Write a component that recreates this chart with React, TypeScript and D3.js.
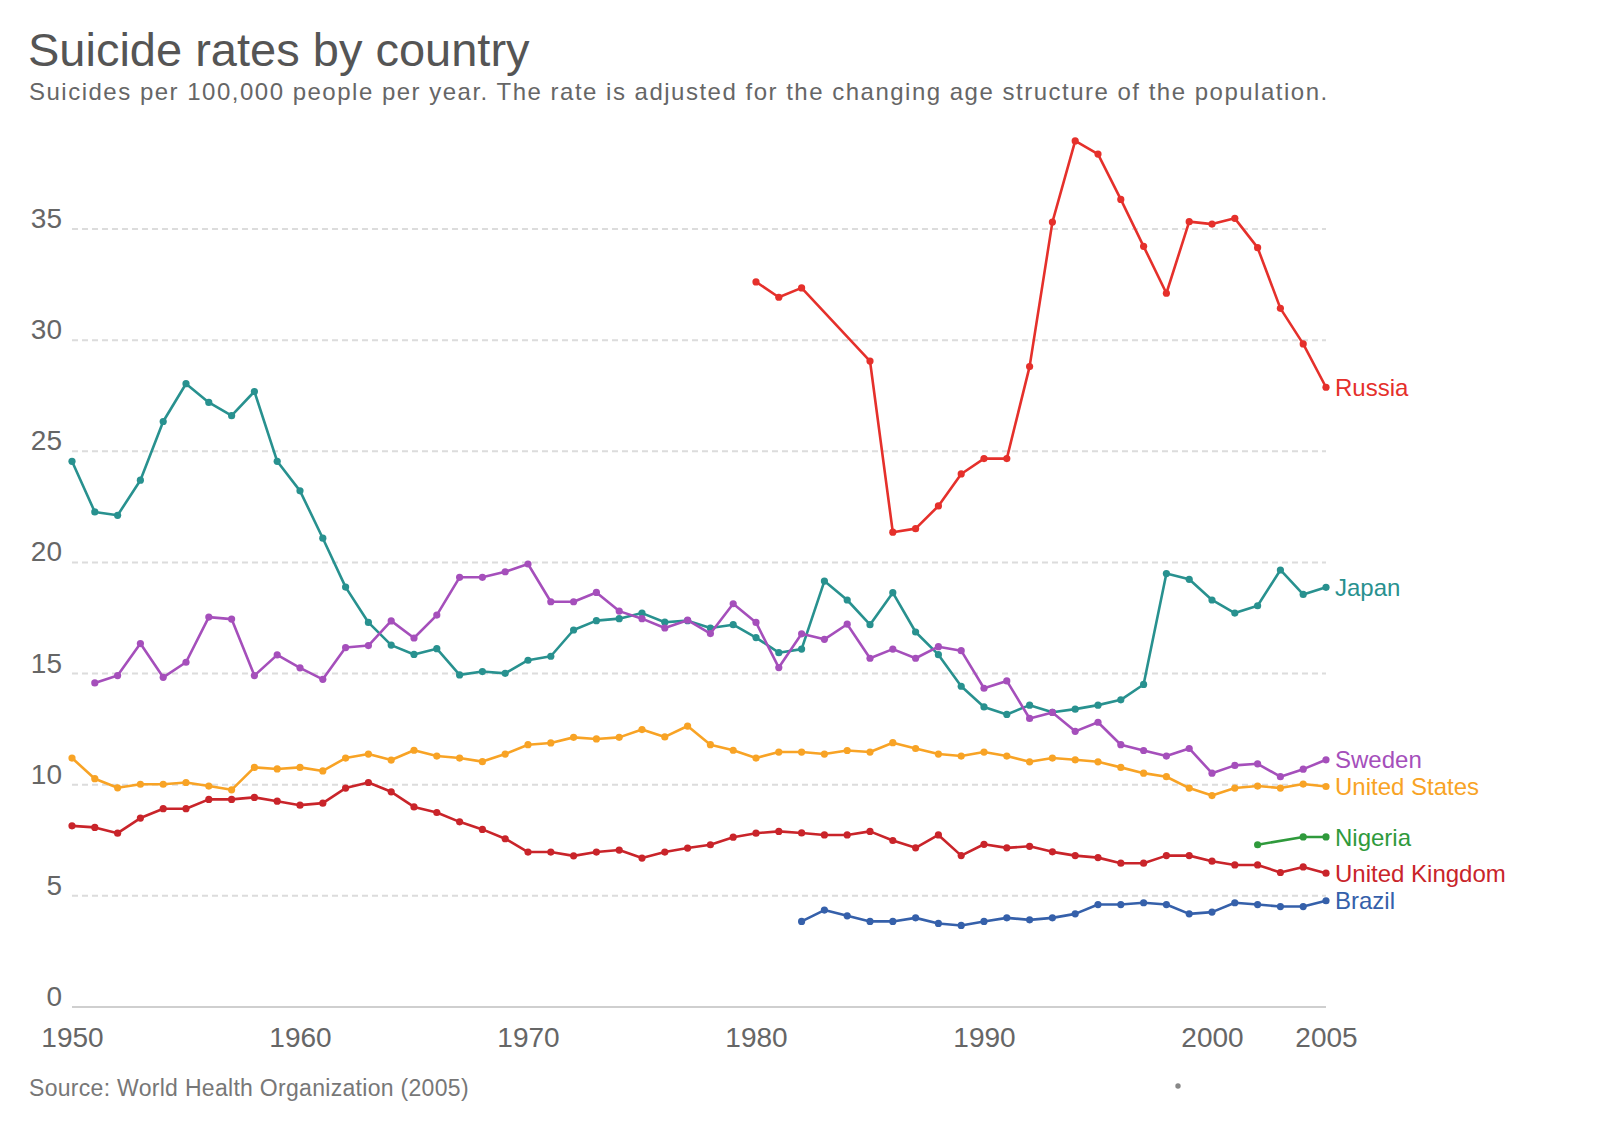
import React, { useEffect, useRef } from 'react';
import * as d3 from 'd3';

// values (suicides per 100,000, age-adjusted)
const japanStart = 1950;
const japan = [
    24.55, 22.27, 22.12, 23.7, 26.34, 28.04, 27.2, 26.6, 27.69, 24.55,
    23.22, 21.09, 18.89, 17.3, 16.28, 15.86, 16.12, 14.94, 15.09, 15.01,
    15.6, 15.78, 16.96, 17.38, 17.47, 17.72, 17.31, 17.38, 17.05, 17.2,
    16.62, 15.94, 16.1, 19.16, 18.31, 17.2, 18.64, 16.87, 15.85, 14.43,
    13.5, 13.16, 13.58, 13.26, 13.4, 13.58, 13.82, 14.51, 19.5, 19.24,
    18.31, 17.72, 18.05, 19.66, 18.56, 18.88,
];

const swedenStart = 1951;
const sweden = [
    14.58, 14.91, 16.35, 14.83, 15.51, 17.54, 17.45, 14.91, 15.84,
    15.26, 14.74, 16.17, 16.26, 17.37, 16.6, 17.63, 19.33, 19.33, 19.58,
    19.93, 18.23, 18.23, 18.65, 17.81, 17.47, 17.05, 17.4, 16.8, 18.14,
    17.3, 15.27, 16.79, 16.54, 17.22, 15.69, 16.1, 15.69, 16.21, 16.03,
    14.34, 14.67, 12.98, 13.25, 12.4, 12.81, 11.8, 11.54, 11.29, 11.63,
    10.52, 10.87, 10.94, 10.36, 10.7, 11.12,
];

const usStart = 1950;
const unitedStates = [
    11.2, 10.27, 9.86, 10.02, 10.02, 10.1, 9.94, 9.77, 10.78, 10.71,
    10.78, 10.62, 11.2, 11.38, 11.11, 11.55, 11.29, 11.2, 11.04, 11.38,
    11.8, 11.88, 12.13, 12.06, 12.13, 12.48, 12.15, 12.64, 11.8, 11.55,
    11.2, 11.47, 11.47, 11.38, 11.54, 11.47, 11.89, 11.63, 11.38, 11.29,
    11.47, 11.29, 11.03, 11.2, 11.12, 11.03, 10.78, 10.52, 10.36, 9.85,
    9.51, 9.85, 9.94, 9.85, 10.03, 9.92,
];

const ukStart = 1950;
const unitedKingdom = [
    8.15, 8.08, 7.82, 8.5, 8.92, 8.92, 9.34, 9.34, 9.43, 9.26,
    9.08, 9.17, 9.85, 10.1, 9.68, 9.0, 8.75, 8.33, 7.99, 7.57,
    6.97, 6.97, 6.8, 6.97, 7.06, 6.7, 6.97, 7.15, 7.3, 7.64,
    7.82, 7.9, 7.83, 7.74, 7.74, 7.9, 7.49, 7.16, 7.74, 6.81,
    7.32, 7.16, 7.23, 6.98, 6.81, 6.72, 6.47, 6.47, 6.81, 6.81,
    6.56, 6.39, 6.39, 6.05, 6.3, 6.02,
];

// Russia has no data for 1983-84, the line just runs across the gap
const russiaYears = [
    1980, 1981, 1982, 1985, 1986, 1987, 1988, 1989, 1990, 1991, 1992, 1993,
    1994, 1995, 1996, 1997, 1998, 1999, 2000, 2001, 2002, 2003, 2004, 2005,
];
const russia = [
    32.62, 31.93, 32.35, 29.06, 21.36, 21.52, 22.54, 23.98, 24.67, 24.67, 28.81, 35.31,
    38.96, 38.37, 36.33, 34.22, 32.11, 35.33, 35.22, 35.48, 34.16, 31.43, 29.83, 27.88,
];

const brazilStart = 1982;
const brazil = [
    3.85, 4.36, 4.1, 3.85, 3.85, 4.01, 3.76, 3.67,
    3.85, 4.01, 3.92, 4.01, 4.19, 4.61, 4.61, 4.69, 4.61, 4.19,
    4.27, 4.69, 4.61, 4.52, 4.52, 4.78,
];

const nigeriaYears = [2002, 2004, 2005];
const nigeria = [7.3, 7.65, 7.65];

const xTicks = [1950, 1960, 1970, 1980, 1990, 2000, 2005];
const yTicks = [0, 5, 10, 15, 20, 25, 30, 35];

type Pt = { year: number; value: number };

const fromStart = (start: number, vals: number[]): Pt[] =>
    vals.map((v, i) => ({ year: start + i, value: v }));
const fromYears = (years: number[], vals: number[]): Pt[] =>
    vals.map((v, i) => ({ year: years[i], value: v }));

const series = [
    { name: 'Russia', color: '#e5302b', data: fromYears(russiaYears, russia) },
    { name: 'Japan', color: '#28918f', data: fromStart(japanStart, japan) },
    { name: 'Sweden', color: '#a54fbb', data: fromStart(swedenStart, sweden) },
    { name: 'United States', color: '#f8a325', data: fromStart(usStart, unitedStates) },
    { name: 'Nigeria', color: '#2f9a3c', data: fromYears(nigeriaYears, nigeria) },
    { name: 'United Kingdom', color: '#c9242a', data: fromStart(ukStart, unitedKingdom) },
    { name: 'Brazil', color: '#3560aa', data: fromStart(brazilStart, brazil) },
];

const FONT = '"Liberation Sans", Arial, Helvetica, sans-serif';

const App: React.FC = () => {
    const svgRef = useRef<SVGSVGElement>(null);

    useEffect(() => {
        const width = 1600;
        const height = 1129;

        d3.select(svgRef.current).selectAll('*').remove();

        const svg = d3.select(svgRef.current)
            .attr('width', width)
            .attr('height', height)
            .style('background', '#fff')
            .style('font-family', FONT);

        const x = d3.scaleLinear().domain([1950, 2005]).range([72, 1326]);
        const y = d3.scaleLinear().domain([0, 35]).range([1007, 229]);

        // Title + subtitle
        svg.append('text')
            .attr('x', 28).attr('y', 66)
            .attr('font-size', 47)
            .attr('fill', '#555')
            .text('Suicide rates by country');

        svg.append('text')
            .attr('x', 29).attr('y', 100)
            .attr('font-size', 24)
            .attr('letter-spacing', 1.5)
            .attr('fill', '#666')
            .text('Suicides per 100,000 people per year. The rate is adjusted for the changing age structure of the population.');

        // Gridlines
        svg.append('g')
            .selectAll('line')
            .data(yTicks.filter(d => d > 0))
            .join('line')
            .attr('x1', x(1950)).attr('x2', x(2005))
            .attr('y1', d => y(d)).attr('y2', d => y(d))
            .attr('stroke', '#dcdcdc')
            .attr('stroke-width', 2)
            .attr('stroke-dasharray', '6,4');

        // baseline
        svg.append('line')
            .attr('x1', x(1950)).attr('x2', x(2005))
            .attr('y1', y(0)).attr('y2', y(0))
            .attr('stroke', '#cfcfcf')
            .attr('stroke-width', 2);

        // Y labels
        svg.append('g')
            .selectAll('text')
            .data(yTicks)
            .join('text')
            .attr('x', 62)
            .attr('y', d => y(d) - 1)
            .attr('text-anchor', 'end')
            .attr('font-size', 28)
            .attr('fill', '#666')
            .text(d => d);

        // X axis labels
        const xAxis = svg.append('g')
            .attr('transform', `translate(0,${y(0)})`)
            .call(d3.axisBottom(x).tickValues(xTicks).tickFormat(d3.format('d')).tickSize(0));
        xAxis.select('.domain').remove();
        xAxis.selectAll('text')
            .attr('y', 40)
            .attr('dy', 0)
            .style('font-family', FONT)
            .style('font-size', '28px')
            .style('fill', '#666');

        // Lines + points
        const line = d3.line<Pt>()
            .x(d => x(d.year))
            .y(d => y(d.value));

        series.forEach(s => {
            const g = svg.append('g');
            g.append('path')
                .datum(s.data)
                .attr('fill', 'none')
                .attr('stroke', s.color)
                .attr('stroke-width', 2.6)
                .attr('stroke-linejoin', 'round')
                .attr('d', line);

            g.selectAll('circle')
                .data(s.data)
                .join('circle')
                .attr('cx', d => x(d.year))
                .attr('cy', d => y(d.value))
                .attr('r', 3.6)
                .attr('fill', s.color);

            const last = s.data[s.data.length - 1];
            g.append('text')
                .attr('x', x(last.year) + 9)
                .attr('y', y(last.value))
                .attr('dy', '0.36em')
                .attr('font-size', 24)
                .attr('fill', s.color)
                .text(s.name);
        });

        // Source
        svg.append('text')
            .attr('x', 29).attr('y', 1096)
            .attr('font-size', 23)
            .attr('letter-spacing', 0.3)
            .attr('fill', '#777')
            .text('Source: World Health Organization (2005)');

        svg.append('circle')
            .attr('cx', 1178).attr('cy', 1086)
            .attr('r', 2.7)
            .attr('fill', '#888');
    }, []);

    return (
        <>
            <style>{'body{margin:0}'}</style>
            <svg ref={svgRef}></svg>
        </>
    );
};

export default App;
